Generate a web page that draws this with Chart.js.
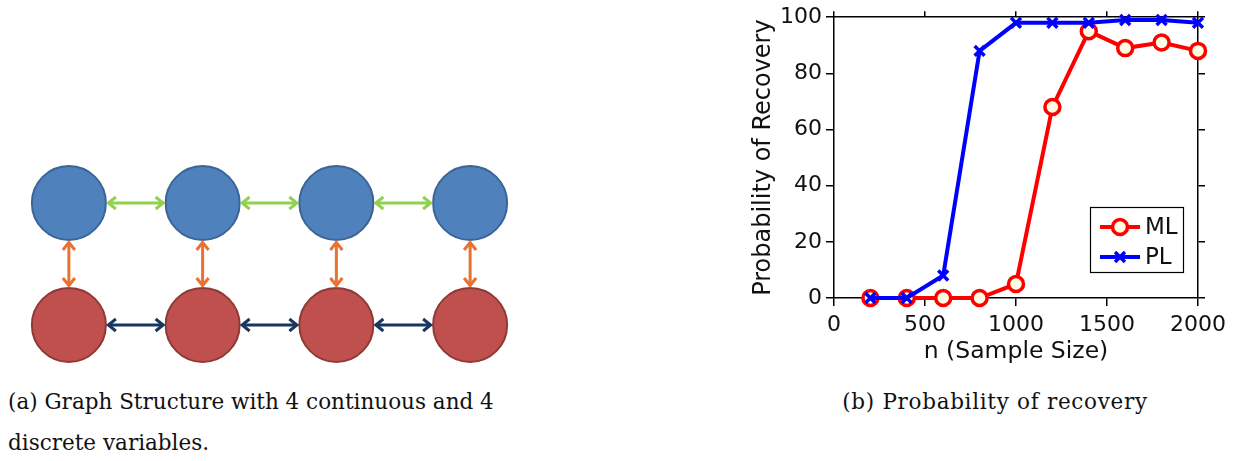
<!DOCTYPE html>
<html>
<head>
<meta charset="utf-8">
<script src="https://cdn.jsdelivr.net/npm/chart.js@4/dist/chart.umd.min.js"></script>
<style>
  html, body { margin: 0; padding: 0; background: #fff; }
  body { position: relative; width: 1233px; height: 461px; overflow: hidden; }
  #graphBox { position: absolute; left: 0; top: 142px; width: 540px; height: 244px; }
  #recBox { position: absolute; left: 740px; top: 0; width: 493px; height: 370px; }
  .cap { position: absolute; font-family: "DejaVu Serif", serif; font-size: 21.5px; color: #111; white-space: nowrap; }
</style>
</head>
<body>
<div id="graphBox"><canvas id="graph"></canvas></div>
<div id="recBox"><canvas id="rec"></canvas></div>
<div class="cap" style="left:8px; top:389px;">(a) Graph Structure with 4 continuous and 4</div>
<div class="cap" style="left:8px; top:430px;">discrete variables.</div>
<div class="cap" style="left:995px; top:389px; letter-spacing:0.7px; transform: translateX(-50%);">(b) Probability of recovery</div>

<script>
// ---- Graph structure: node positions (column, row) and edges ----
const contCols = [1, 2, 3, 4];
const contRows = [2, 2, 2, 2];
const discCols = [1, 2, 3, 4];
const discRows = [1, 1, 1, 1];
const contEdges = [[0, 1], [1, 2], [2, 3]];
const discEdges = [[0, 1], [1, 2], [2, 3]];
const crossEdges = [[0, 0], [1, 1], [2, 2], [3, 3]];

// ---- Recovery experiment ----
const sampleSizes = [200, 400, 600, 800, 1000, 1200, 1400, 1600, 1800, 2000];
const mlRecovery = [0, 0, 0, 0, 5, 68, 95, 89, 91, 88];
const plRecovery = [0, 0, 8, 88, 98, 98, 98, 99, 99, 98];
const xTickValues = [0, 500, 1000, 1500, 2000];
const yTickValues = [0, 20, 40, 60, 80, 100];

const NODE_R = 37;

function toPoints(xs, ys) { return xs.map((x, i) => ({ x: x, y: ys[i] })); }

// double-headed arrow between two node centres, trimmed to the circle edges
function drawDoubleArrow(ctx, x1, y1, x2, y2, trim, color) {
  const dx = x2 - x1, dy = y2 - y1;
  const len = Math.hypot(dx, dy);
  const ux = dx / len, uy = dy / len;
  const ax = x1 + ux * trim, ay = y1 + uy * trim;
  const bx = x2 - ux * trim, by = y2 - uy * trim;
  const head = 9, half = 6;
  ctx.save();
  ctx.strokeStyle = color;
  ctx.lineWidth = 3;
  ctx.lineCap = 'butt';
  ctx.lineJoin = 'miter';
  ctx.beginPath();
  ctx.moveTo(ax + ux * 1.5, ay + uy * 1.5);
  ctx.lineTo(bx - ux * 1.5, by - uy * 1.5);
  ctx.stroke();
  const px = -uy, py = ux;
  ctx.beginPath();
  ctx.moveTo(ax + ux * head + px * half, ay + uy * head + py * half);
  ctx.lineTo(ax + ux * 1.5, ay + uy * 1.5);
  ctx.lineTo(ax + ux * head - px * half, ay + uy * head - py * half);
  ctx.moveTo(bx - ux * head + px * half, by - uy * head + py * half);
  ctx.lineTo(bx - ux * 1.5, by - uy * 1.5);
  ctx.lineTo(bx - ux * head - px * half, by - uy * head - py * half);
  ctx.stroke();
  ctx.restore();
}

const edgePlugin = {
  id: 'edges',
  afterDatasetsDraw(chart) {
    const { ctx, scales: { x, y } } = chart;
    const trim = NODE_R + 1;
    const cp = i => [x.getPixelForValue(contCols[i]), y.getPixelForValue(contRows[i])];
    const dp = i => [x.getPixelForValue(discCols[i]), y.getPixelForValue(discRows[i])];
    contEdges.forEach(([a, b]) => drawDoubleArrow(ctx, ...cp(a), ...cp(b), trim, '#92D050'));
    discEdges.forEach(([a, b]) => drawDoubleArrow(ctx, ...dp(a), ...dp(b), trim, '#17375E'));
    crossEdges.forEach(([a, b]) => drawDoubleArrow(ctx, ...cp(a), ...dp(b), trim, '#E97132'));
  }
};

new Chart(document.getElementById('graph'), {
  type: 'scatter',
  data: {
    datasets: [
      { data: toPoints(contCols, contRows), clip: false, pointRadius: NODE_R, pointBackgroundColor: '#4F81BD', pointBorderColor: '#3B6597', pointBorderWidth: 2 },
      { data: toPoints(discCols, discRows), clip: false, pointRadius: NODE_R, pointBackgroundColor: '#C0504D', pointBorderColor: '#8E3A37', pointBorderWidth: 2 }
    ]
  },
  options: {
    responsive: true, maintainAspectRatio: false, animation: false, events: [], devicePixelRatio: 1,
    layout: { autoPadding: false, padding: { left: 2, right: 3, top: 0, bottom: 0 } },
    plugins: { legend: { display: false }, tooltip: { enabled: false } },
    scales: {
      x: { type: 'linear', display: false, min: 0.5, max: 4.5 },
      y: { type: 'linear', display: false, min: 0.5, max: 2.5 }
    }
  },
  plugins: [edgePlugin]
});

// ---- Recovery chart ----
const tickFont = { family: '"DejaVu Sans", sans-serif', size: 22 };
const titleFont = { family: '"DejaVu Sans", sans-serif', size: 23.5 };
const ink = '#111';

const legendEntries = [
  { label: 'ML', idx: 1 },
  { label: 'PL', idx: 0 }
];

const boxLegend = {
  id: 'boxLegend',
  afterDraw(chart) {
    const { ctx, chartArea } = chart;
    const w = 94, h = 66;
    const left = chartArea.right - 14 - w, top = chartArea.bottom - 25 - h;
    ctx.save();
    ctx.fillStyle = '#fff';
    ctx.fillRect(left, top, w, h);
    ctx.strokeStyle = '#000';
    ctx.lineWidth = 1.2;
    ctx.strokeRect(left + 0.5, top + 0.5, w - 1, h - 1);
    legendEntries.forEach((e, i) => {
      const ds = chart.data.datasets[e.idx];
      const cy = top + 20 + i * 30;
      ctx.strokeStyle = ds.borderColor;
      ctx.lineWidth = ds.borderWidth;
      ctx.beginPath();
      ctx.moveTo(left + 10, cy);
      ctx.lineTo(left + 50, cy);
      ctx.stroke();
      ctx.fillStyle = ds.pointBackgroundColor;
      ctx.strokeStyle = ds.pointBorderColor;
      ctx.lineWidth = ds.pointBorderWidth;
      Chart.helpers.drawPoint(ctx, {
        pointStyle: ds.pointStyle, radius: ds.pointRadius, borderWidth: ds.pointBorderWidth
      }, left + 30, cy);
      ctx.fillStyle = ink;
      ctx.font = '23px "DejaVu Sans", sans-serif';
      ctx.textBaseline = 'middle';
      ctx.textAlign = 'left';
      ctx.fillText(e.label, left + 55, cy + 1);
    });
    ctx.restore();
  }
};

const axisGrid = { drawOnChartArea: false, color: '#000', lineWidth: 1.5, tickLength: 8 };
const axisBorder = { color: '#000', width: 1.5 };
const setTicks = vals => axis => { axis.ticks = vals.map(v => ({ value: v })); };
const plainLabel = v => String(v);

new Chart(document.getElementById('rec'), {
  type: 'line',
  data: {
    datasets: [
      {
        label: 'PL', order: 0, clip: false,
        data: toPoints(sampleSizes, plRecovery),
        borderColor: '#0000FF', borderWidth: 4,
        pointStyle: 'crossRot', pointRadius: 7, pointBorderWidth: 3.5,
        pointBorderColor: '#0000FF', pointBackgroundColor: '#0000FF'
      },
      {
        label: 'ML', order: 1, clip: false,
        data: toPoints(sampleSizes, mlRecovery),
        borderColor: '#FF0000', borderWidth: 4,
        pointStyle: 'circle', pointRadius: 7.5, pointBorderWidth: 3.5,
        pointBorderColor: '#FF0000', pointBackgroundColor: '#FFFDE3'
      }
    ]
  },
  options: {
    responsive: true, maintainAspectRatio: false, animation: false, events: [], devicePixelRatio: 1,
    layout: { autoPadding: false, padding: 0 },
    plugins: { legend: { display: false }, tooltip: { enabled: false } },
    scales: {
      x: {
        type: 'linear', position: 'bottom', min: 0, max: 2000,
        afterBuildTicks: setTicks(xTickValues),
        afterFit: s => { s.height = 72; },
        grid: axisGrid, border: axisBorder,
        ticks: { color: ink, font: tickFont, padding: 6, maxRotation: 0, autoSkip: false, callback: plainLabel },
        title: { display: true, text: 'n (Sample Size)', color: ink, font: titleFont, padding: { top: 0, bottom: 4 } }
      },
      x2: {
        type: 'linear', position: 'top', min: 0, max: 2000,
        afterBuildTicks: setTicks(xTickValues),
        afterFit: s => { s.height = 17; },
        grid: Object.assign({}, axisGrid, { tickLength: 6 }), border: axisBorder,
        ticks: { display: false }
      },
      y: {
        type: 'linear', position: 'left', min: 0, max: 100,
        afterBuildTicks: setTicks(yTickValues),
        afterFit: s => { s.width = 94; },
        grid: axisGrid, border: axisBorder,
        ticks: { color: ink, font: tickFont, padding: 4, callback: plainLabel },
        title: { display: true, text: 'Probability of Recovery', color: ink, font: { family: titleFont.family, size: 24 }, padding: { top: 9, bottom: 0 } }
      },
      y2: {
        type: 'linear', position: 'right', min: 0, max: 100,
        afterBuildTicks: setTicks(yTickValues),
        afterFit: s => { s.width = 35; },
        grid: Object.assign({}, axisGrid, { tickLength: 7 }), border: axisBorder,
        ticks: { display: false }
      }
    }
  },
  plugins: [boxLegend]
});
</script>
</body>
</html>
